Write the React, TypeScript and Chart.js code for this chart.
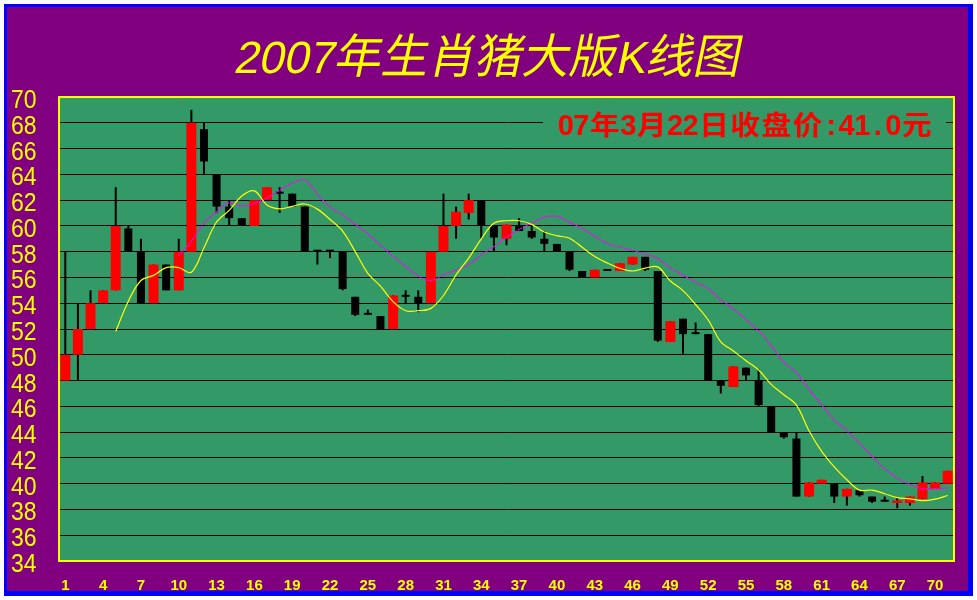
import React, { useEffect, useRef } from "react";
import { Chart, registerables } from "chart.js";

Chart.register(...registerables);

const TITLE = "2007年生肖猪大版K线图";
const NOTE = "07年3月22日收盘价:41.0元";

const days = [
  1, 2, 3, 4, 5, 6, 7, 8, 9, 10, 11, 12, 13, 14, 15, 16, 17, 18, 19, 20,
  21, 22, 23, 24, 25, 26, 27, 28, 29, 30, 31, 32, 33, 34, 35, 36, 37, 38, 39, 40,
  41, 42, 43, 44, 45, 46, 47, 48, 49, 50, 51, 52, 53, 54, 55, 56, 57, 58, 59, 60,
  61, 62, 63, 64, 65, 66, 67, 68, 69, 70, 71,
];

const opens = [
  48, 50, 52, 54, 55, 59.8, 58, 54, 57, 55,
  58, 67.5, 64, 61.5, 60.6, 60, 62, 62.5, 62.5, 61.5,
  58, 58, 58, 54.5, 53.1, 53, 52, 54.5, 54.5, 54,
  58, 60, 61, 62, 60, 59, 60, 59.6, 59, 58.6,
  58, 56.5, 56, 56.5, 56.5, 57, 57.6, 56.5, 51, 52.8,
  51.6, 51.6, 48, 47.5, 49, 48, 46, 44, 43.5, 39,
  40, 40, 39, 39.5, 39, 38.6, 38.5, 38.5, 38.8, 39.6,
  40,
];
const highs = [
  58, 54, 55, 55, 63, 60, 59, 57, 57, 59,
  69, 68, 64, 62, 60.6, 62, 63, 63, 62.5, 61.5,
  58, 58, 58, 54.5, 53.5, 53, 54.6, 55, 55, 58,
  62.5, 61.5, 62.5, 62, 60, 60.1, 60.6, 60, 59.6, 58.6,
  58, 56.5, 56.6, 56.5, 57.1, 57.6, 57.6, 56.5, 52.6, 52.8,
  52.5, 51.6, 48, 49.1, 49, 48.9, 46, 44, 44, 40.1,
  40.3, 40, 39.6, 39.5, 39, 39, 38.9, 39, 40.6, 40.1,
  41,
];
const lows = [
  48, 48, 52, 54, 55, 58, 54, 54, 55, 55,
  58, 64, 61, 60, 60, 60, 62, 61, 61.5, 58,
  57, 57.5, 55, 53, 53.1, 52, 52, 54, 53.3, 54,
  58, 59, 60.5, 59, 58, 58.5, 59.6, 59, 58, 58,
  56.5, 56, 56, 56.5, 56.5, 57, 56.5, 51, 51, 50,
  51.6, 48, 47, 47.5, 48, 46, 44, 43.5, 39, 39,
  40, 38.5, 38.3, 39, 38.5, 38.6, 38.1, 38.3, 38.8, 39.6,
  40,
];
const closes = [
  50, 52, 54, 55, 60, 58, 54, 57, 55, 58,
  68, 65, 61.5, 60.6, 60, 62, 63, 62.5, 61.5, 58,
  58, 58, 55.1, 53.1, 53.1, 52, 54.6, 54.5, 54, 58,
  60, 61.1, 62, 60, 59.1, 60.1, 59.6, 59.1, 58.6, 58,
  56.6, 56, 56.6, 56.5, 57.1, 57.6, 56.6, 51.1, 52.6, 51.6,
  51.6, 48, 47.6, 49.1, 48.4, 46.1, 44, 43.6, 39, 40.1,
  40.3, 39, 39.6, 39.1, 38.6, 38.6, 38.7, 39, 40.1, 40.1,
  41,
];

// yellow moving-average line
const maYellow = [
  null, null, null, null, 51.8, 54.16, 55.76, 56.16, 56.76, 56.76,
  56.4, 58.3, 60.3, 61.2, 62.32, 62.72, 61.62, 61.32, 61.52, 61.7,
  61.3, 60.5, 59.6, 58.0, 56.32, 55.32, 54.12, 53.42, 53.42, 53.6,
  54.6, 56.2, 57.5, 59.0, 60.2, 60.4, 60.4, 60.12, 59.52, 59.24,
  59.04, 58.34, 57.62, 57.12, 56.7, 56.5, 56.72, 56.82, 55.72, 54.98,
  53.9, 52.7, 51.0, 50.3, 49.54, 48.82, 47.7, 46.9, 46.1, 44.1,
  42.5, 41.3, 40.3, 39.5, 39.5, 39.22, 38.92, 38.82, 38.68, 38.8,
  39.08,
];
// magenta dotted moving-average line
const maMagenta = [
  null, null, null, null, null, null, null, null, null, 57.7,
  58.8, 60.2, 61.1, 61.8, 61.56, 61.76, 62.16, 62.76, 63.31, 63.56,
  62.46, 61.46, 60.86, 60.11, 59.4, 58.5, 57.66, 56.86, 56.11, 55.76,
  56.21, 56.56, 57.01, 57.76, 58.41, 59.12, 59.72, 60.22, 60.68, 60.74,
  60.29, 59.79, 59.2, 58.65, 58.36, 58.11, 57.81, 57.46, 56.76, 56.18,
  55.63, 55.14, 54.28, 53.54, 52.73, 51.86, 50.7, 49.45, 48.59, 47.32,
  46.1, 44.94, 44.1, 43.14, 42.14, 41.15, 40.44, 39.94, 39.6, 39.6,
  39.67,
];

const yTickValues = [70, 68, 66, 64, 62, 60, 58, 56, 54, 52, 50, 48, 46, 44, 42, 40, 38, 36, 34];
const xTickLabels = [1, 4, 7, 10, 13, 16, 19, 22, 25, 28, 31, 34, 37, 40, 43, 46, 49, 52, 55, 58, 61, 64, 67, 70];

const isCJK = (ch: string) => ch.charCodeAt(0) >= 0x2e80;

export default function App() {
  const ref = useRef<HTMLCanvasElement>(null);

  useEffect(() => {
    const canvas = ref.current;
    if (!canvas) return;

    const redBodies = days.map((_, i) => (closes[i] > opens[i] ? [opens[i], closes[i]] : null));
    const blackBodies = days.map((_, i) => (closes[i] > opens[i] ? null : [closes[i], opens[i]]));
    const wicks = days.map((_, i) => [lows[i], highs[i]]);

    const framePlugin = {
      id: "frame",
      beforeDraw(chart: any) {
        const ctx = chart.ctx as CanvasRenderingContext2D;
        const a = chart.chartArea;
        ctx.save();
        ctx.fillStyle = "#ffffff";
        ctx.fillRect(0, 0, 977, 600);
        ctx.fillStyle = "#0000ff";
        ctx.fillRect(4, 4, 969, 592);
        ctx.fillStyle = "#800080";
        ctx.fillRect(7, 7, 961, 584);
        ctx.fillStyle = "#339966";
        ctx.fillRect(a.left, a.top, a.right - a.left, a.bottom - a.top);
        ctx.restore();
      },
      afterDraw(chart: any) {
        const ctx = chart.ctx as CanvasRenderingContext2D;
        const a = chart.chartArea;
        const xs = chart.scales.x;
        const ys = chart.scales.y;
        ctx.save();

        // annotation box + text
        ctx.fillStyle = "#339966";
        ctx.fillRect(543, 109, 403, 30);
        ctx.fillStyle = "#ff0000";
        ctx.textBaseline = "alphabetic";
        ctx.textAlign = "center";
        let nx = 558;
        for (const ch of NOTE) {
          if (isCJK(ch)) {
            const cell = 31.2;
            ctx.font = 'bold 27px "Noto Sans CJK SC"';
            ctx.save();
            ctx.translate(nx + cell / 2, 135);
            ctx.scale(1.1, 1);
            ctx.fillText(ch, 0, 0);
            ctx.restore();
            nx += cell;
          } else {
            const cell = 15.6;
            ctx.font = 'bold 29px "Liberation Sans"';
            ctx.fillText(ch, nx + cell / 2, 135);
            nx += cell;
          }
        }

        // plot border
        ctx.strokeStyle = "#ffff00";
        ctx.lineWidth = 2;
        ctx.strokeRect(a.left, a.top, a.right - a.left, a.bottom - a.top);

        // y labels
        ctx.fillStyle = "#ffff00";
        ctx.textAlign = "left";
        ctx.font = '25px "Liberation Sans"';
        for (const v of yTickValues) {
          const y = ys.getPixelForValue(v);
          ctx.save();
          ctx.translate(11, y + 11);
          ctx.scale(0.92, 1);
          ctx.fillText(String(v), 0, 0);
          ctx.restore();
        }

        // x labels
        ctx.textAlign = "center";
        ctx.font = 'bold 15px "Liberation Sans"';
        for (const lbl of xTickLabels) {
          const idx = days.indexOf(lbl);
          const x = xs.getPixelForValue(idx);
          ctx.fillText(String(lbl), x, 590);
        }

        // title
        ctx.textAlign = "left";
        ctx.save();
        ctx.translate(0, 73);
        ctx.transform(1, 0, -0.21, 1, 0, 0);
        let tx = 233;
        for (const ch of TITLE) {
          ctx.font = isCJK(ch) ? '47px "Noto Sans CJK SC"' : '45px "Liberation Sans"';
          ctx.fillText(ch, tx, 0);
          tx += ctx.measureText(ch).width;
        }
        ctx.restore();

        ctx.restore();
      },
    };

    const chart = new Chart(canvas, {
      type: "bar",
      data: {
        labels: days.map(String),
        datasets: [
          {
            type: "line",
            data: maYellow,
            borderColor: "#ffff00",
            borderWidth: 1.2,
            pointRadius: 0,
            tension: 0.35,
            order: 0,
          } as any,
          {
            type: "line",
            data: maMagenta,
            borderColor: "#ff00ff",
            borderWidth: 1.4,
            borderDash: [2, 1],
            pointRadius: 0,
            tension: 0.35,
            order: 0,
          } as any,
          {
            data: redBodies as any,
            backgroundColor: "#ff0000",
            barThickness: 10,
            grouped: false,
            inflateAmount: 0,
            order: 1,
          } as any,
          {
            data: blackBodies as any,
            backgroundColor: "#000000",
            barThickness: 8,
            minBarLength: 2,
            grouped: false,
            inflateAmount: 0,
            order: 1,
          } as any,
          {
            data: wicks as any,
            backgroundColor: "#000000",
            barThickness: 2,
            grouped: false,
            inflateAmount: 0,
            order: 2,
          } as any,
        ],
      },
      options: {
        animation: false,
        responsive: false,
        devicePixelRatio: 1,
        layout: { padding: { top: 97, right: 23, bottom: 0, left: 0 } },
        plugins: { legend: { display: false }, tooltip: { enabled: false } },
        scales: {
          x: {
            offset: true,
            grid: { display: false },
            border: { display: false },
            ticks: { display: false },
            afterFit: (s: any) => {
              s.height = 39;
            },
          },
          y: {
            min: 34,
            max: 70,
            ticks: { display: false, stepSize: 2 },
            grid: { color: "#000000", lineWidth: 1, drawTicks: false },
            border: { display: false },
            afterFit: (s: any) => {
              s.width = 59;
            },
          },
        },
      } as any,
      plugins: [framePlugin],
    });

    return () => chart.destroy();
  }, []);

  return (
    <div style={{ position: "fixed", left: 0, top: 0, width: 977, height: 600 }}>
      <canvas ref={ref} width={977} height={600} style={{ display: "block", width: 977, height: 600 }} />
    </div>
  );
}
